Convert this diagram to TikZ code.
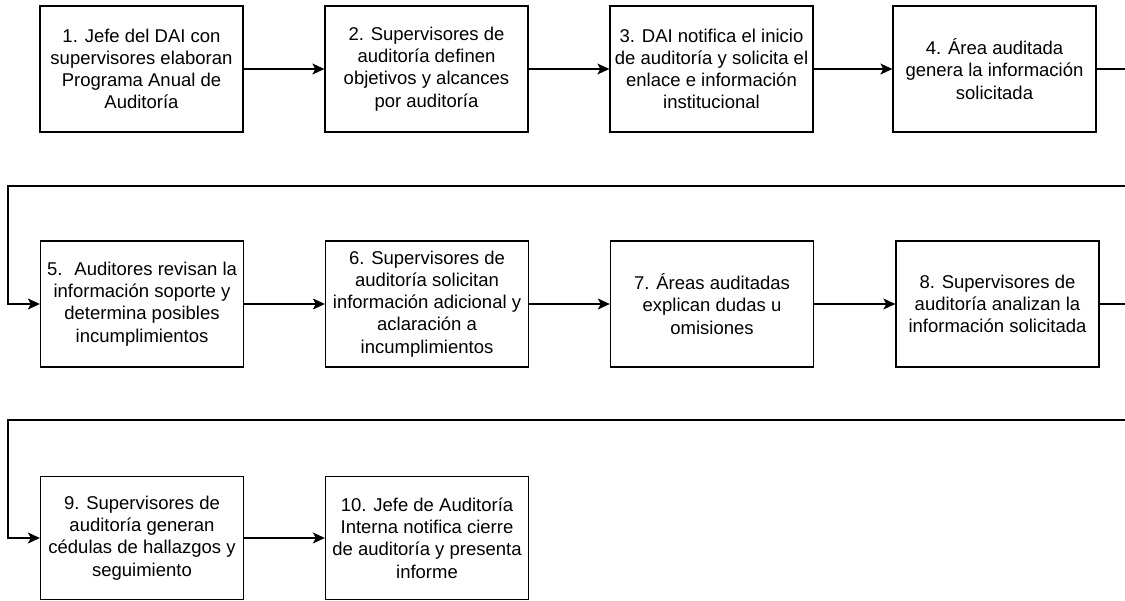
\documentclass[tikz,border=0pt]{standalone}
\usepackage{fontspec}
\setmainfont{Liberation Sans}
\usetikzlibrary{arrows.meta}

\begin{document}
\begin{tikzpicture}[x=1pt,y=-1pt,
  stepbox/.style={draw=black, line width=1.3pt, fill=white,
    minimum width=203pt, minimum height=126pt, inner sep=2pt,
    align=center, font=\fontsize{18.5pt}{22.2pt}\selectfont},
  flow/.style={draw=black, line width=1.3pt,
    -{Stealth[length=12pt,width=11pt,inset=3pt]}},
  wire/.style={draw=black, line width=1.3pt}]

  % page frame
  \clip (0,0) rectangle (1125,601);
  \fill[white] (0,0) rectangle (1125,601);

  % row 1
  \node[stepbox] (b1) at (141.5,69) {1. Jefe del DAI con\\supervisores elaboran\\Programa Anual de\\Auditoría};
  \node[stepbox] (b2) at (426.5,69) {2. Supervisores de\\auditoría definen\\objetivos y alcances\\por auditoría};
  \node[stepbox] (b3) at (711.5,69) {3. DAI notifica el inicio\\de auditoría y solicita el\\enlace e información\\institucional};
  \node[stepbox] (b4) at (994.5,69) {4. Área auditada\\genera la información\\solicitada};

  % row 2
  \node[stepbox] (b5) at (142,304) {5.~ Auditores revisan la\\información soporte y\\determina posibles\\incumplimientos};
  \node[stepbox] (b6) at (427,304) {6. Supervisores de\\auditoría solicitan\\información adicional y\\aclaración a\\incumplimientos};
  \node[stepbox] (b7) at (712,304) {7. Áreas auditadas\\explican dudas u\\omisiones};
  \node[stepbox] (b8) at (997.5,304) {8. Supervisores de\\auditoría analizan la\\información solicitada};

  % row 3
  \node[stepbox, minimum height=123pt] (b9) at (142,538) {9. Supervisores de\\auditoría generan\\cédulas de hallazgos y\\seguimiento};
  \node[stepbox, minimum height=123pt] (b10) at (427,538) {10. Jefe de Auditoría\\Interna notifica cierre\\de auditoría y presenta\\informe};

  % return paths between rows
  \coordinate (r1) at (1145,186);
  \coordinate (l1) at (8,186);
  \coordinate (r2) at (1145,420);
  \coordinate (l2) at (8,420);

  % connectors
  \draw[flow] (b1) -- (b2);
  \draw[flow] (b2) -- (b3);
  \draw[flow] (b3) -- (b4);
  \draw[flow] (b4.east) -| (r1) -- (l1) |- (b5.west);
  \draw[flow] (b5) -- (b6);
  \draw[flow] (b6) -- (b7);
  \draw[flow] (b7) -- (b8);
  \draw[flow] (b8.east) -| (r2) -- (l2) |- (b9.west);
  \draw[flow] (b9) -- (b10);
\end{tikzpicture}
\end{document}
